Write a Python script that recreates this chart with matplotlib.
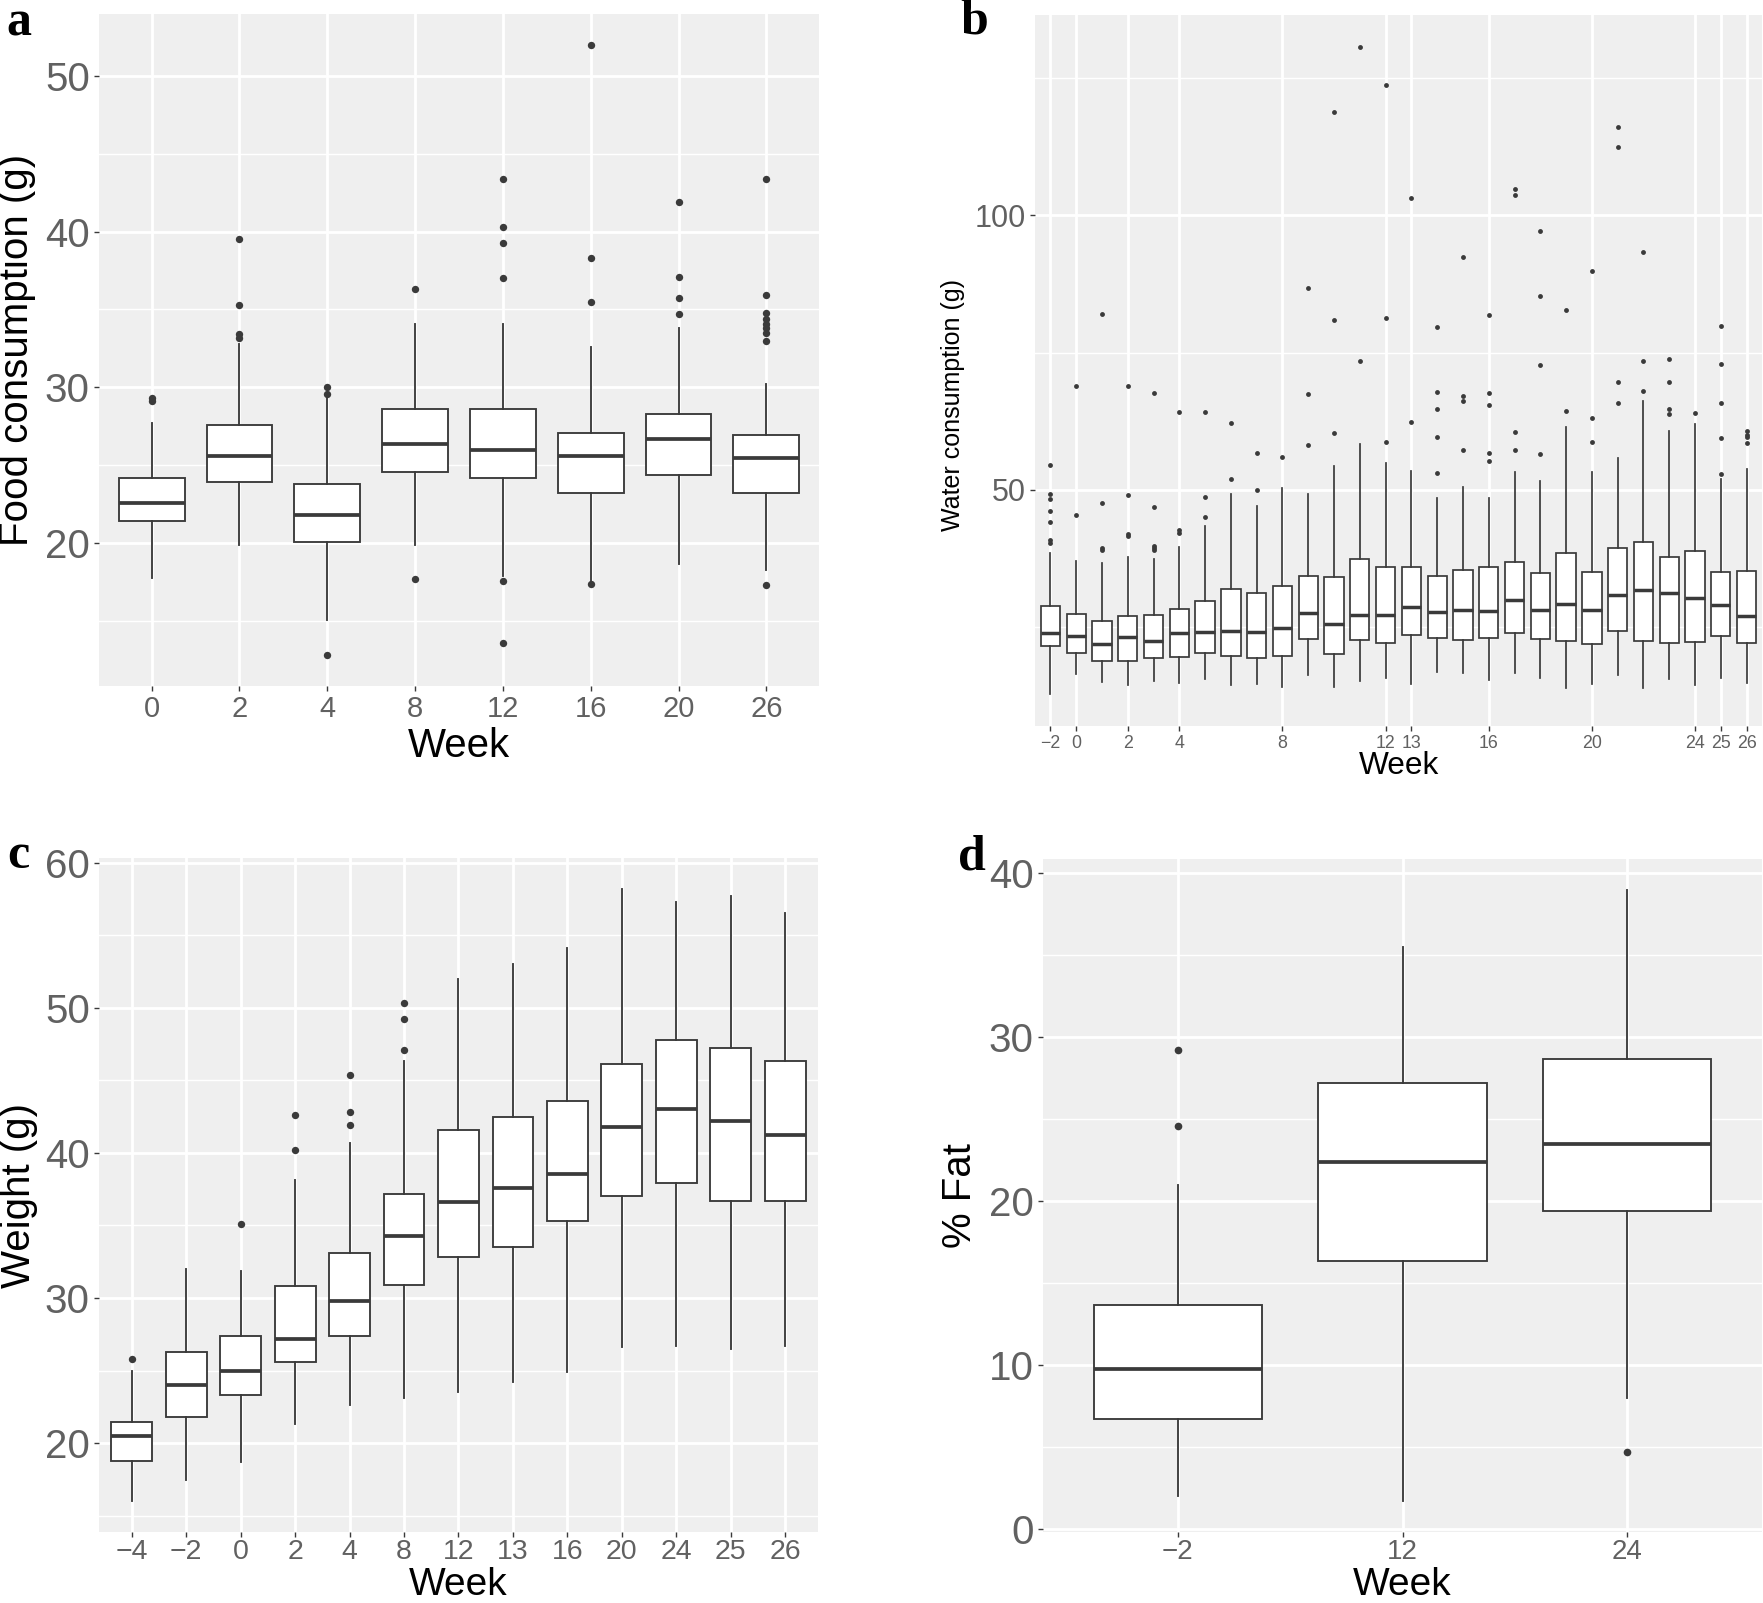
import matplotlib
matplotlib.use("Agg")
import matplotlib.pyplot as plt
from matplotlib.ticker import FixedLocator

plt.rcParams['font.family'] = ['Liberation Sans', 'DejaVu Sans']

W, H = 1763, 1603

# ---------------- a: food consumption ----------------
weeks_a = ['0', '2', '4', '8', '12', '16', '20', '26']
a_lo = [17.8, 19.9, 15.1, 19.9, 17.9, 17.6, 18.7, 18.3]
a_q1 = [21.4, 23.9, 20.1, 24.6, 24.2, 23.25, 24.4, 23.2]
a_med = [22.6, 25.6, 21.8, 26.4, 26.0, 25.6, 26.7, 25.5]
a_q3 = [24.2, 27.6, 23.8, 28.6, 28.6, 27.1, 28.3, 26.95]
a_hi = [27.7, 32.8, 29.3, 34.1, 34.1, 32.6, 33.8, 30.2]
a_out = [[29.3, 29.1],
         [39.5, 35.3, 33.4, 33.2],
         [30.0, 29.6, 12.8],
         [36.3, 17.7],
         [43.4, 40.3, 39.25, 37.0, 17.6, 13.6],
         [52.0, 38.3, 35.5, 17.4],
         [41.9, 37.1, 35.75, 34.7],
         [43.4, 35.9, 34.75, 34.4, 34.1, 33.8, 33.5, 33.0, 17.3]]

# ---------------- b: water consumption ----------------
weeks_b = ['-2', '0', '1', '2', '3', '4', '5', '6', '7', '8', '9', '10', '11', '12',
           '13', '14', '15', '16', '17', '18', '19', '20', '21', '22', '23', '24', '25', '26']
b_labelled = ['-2', '0', '2', '4', '8', '12', '13', '16', '20', '24', '25', '26']
b_lo = [12.9, 16.5, 15.0, 14.4, 15.15, 14.8, 15.6, 14.5, 14.7, 14.05, 16.2, 14.05, 15.27, 15.75,
        14.7, 16.8, 16.7, 15.45, 16.7, 15.75, 14.0, 14.7, 16.2, 14.0, 15.6, 14.4, 15.8, 14.85]
b_q1 = [21.5, 20.3, 18.8, 18.8, 19.4, 19.6, 20.3, 19.7, 19.3, 19.8, 22.8, 20.05, 22.6, 22.2,
        23.5, 23.1, 22.7, 23.1, 24.0, 22.8, 22.4, 22.0, 24.3, 22.5, 22.05, 22.3, 23.35, 22.1]
b_med = [23.9, 23.45, 21.9, 23.3, 22.5, 23.9, 24.1, 24.3, 24.2, 24.8, 27.6, 25.5, 27.15, 27.15,
         28.6, 27.7, 28.1, 27.9, 29.9, 28.2, 29.3, 28.2, 30.85, 31.75, 31.2, 30.3, 29.05, 27.1]
b_q3 = [28.9, 27.4, 26.2, 27.0, 27.2, 28.4, 29.7, 32.0, 31.2, 32.5, 34.4, 34.2, 37.45, 35.9,
        35.9, 34.4, 35.5, 36.05, 36.8, 34.8, 38.6, 35.0, 39.5, 40.5, 37.8, 38.85, 35.0, 35.2]
b_hi = [38.6, 37.1, 36.7, 37.7, 37.4, 39.6, 43.5, 49.2, 47.1, 50.3, 49.2, 54.4, 58.4, 54.85,
        53.4, 48.5, 50.5, 48.5, 53.3, 51.6, 61.5, 53.3, 55.9, 66.2, 60.8, 62.05, 51.9, 53.75]
b_out = [[54.5, 49.3, 48.4, 46.1, 44.2, 40.9, 40.4],
         [69.0, 45.5],
         [82.0, 47.7, 39.4, 39.1],
         [69.0, 49.15, 41.9, 41.6],
         [67.6, 46.8, 39.8, 39.4, 39.0],
         [64.2, 42.7, 42.2],
         [64.2, 48.7, 45.0],
         [62.1, 51.9],
         [56.7, 50.0],
         [56.05],
         [86.7, 67.4, 58.2],
         [118.8, 81.0, 60.3],
         [130.6, 73.4],
         [123.8, 81.3, 58.7],
         [103.2, 62.4],
         [79.6, 67.9, 64.8, 59.7, 53.0],
         [92.5, 67.15, 66.2, 57.3],
         [81.8, 67.6, 65.4, 56.7, 55.3],
         [104.8, 103.8, 60.5, 57.3],
         [97.1, 85.4, 72.7, 56.5],
         [82.85, 64.4],
         [89.9, 63.1, 58.7],
         [116.1, 112.5, 69.7, 65.9],
         [93.3, 73.4, 68.1],
         [73.8, 69.6, 64.8, 63.75],
         [64.1],
         [79.9, 73.0, 65.9, 59.5, 52.85],
         [60.7, 60.0, 59.6, 58.5]]

# ---------------- c: weight ----------------
weeks_c = ['-4', '-2', '0', '2', '4', '8', '12', '13', '16', '20', '24', '25', '26']
c_lo = [16.0, 17.5, 18.7, 21.3, 22.65, 23.1, 23.5, 24.2, 24.9, 26.6, 26.7, 26.5, 26.7]
c_q1 = [18.8, 21.8, 23.3, 25.6, 27.4, 30.9, 32.8, 33.5, 35.3, 37.0, 37.9, 36.7, 36.7]
c_med = [20.5, 24.0, 25.0, 27.2, 29.8, 34.3, 36.65, 37.6, 38.55, 41.75, 43.0, 42.2, 41.2]
c_q3 = [21.5, 26.3, 27.4, 30.8, 33.1, 37.2, 41.6, 42.5, 43.6, 46.1, 47.8, 47.2, 46.3]
c_hi = [25.0, 32.0, 31.9, 38.1, 40.7, 46.3, 52.0, 53.0, 54.1, 58.2, 57.3, 57.7, 56.5]
c_out = [[25.8], [], [35.1], [42.6, 40.2], [45.35, 42.8, 41.9], [50.35, 49.2, 47.1],
         [], [], [], [], [], [], []]

# ---------------- d: % fat ----------------
weeks_d = ['-2', '12', '24']
d_lo = [2.0, 1.7, 8.0]
d_q1 = [6.75, 16.35, 19.4]
d_med = [9.8, 22.4, 23.5]
d_q3 = [13.65, 27.2, 28.7]
d_hi = [21.0, 35.5, 39.0]
d_out = [[29.2, 24.6], [], [4.7]]

BG = '#EFEFEF'
INK = '#3A3A3A'
TICK = '#616161'


def rect(l, t, r, b):
    return [l / W, 1 - b / H, (r - l) / W, (b - t) / H]


def nice(lab):
    return lab.replace('-', '\u2212')


def panel(ax, labels, lo, q1, med, q3, hi, out, lw, ms):
    stats = []
    for i in range(len(labels)):
        stats.append(dict(label=labels[i], whislo=lo[i], q1=q1[i], med=med[i],
                          q3=q3[i], whishi=hi[i], fliers=out[i]))
    ax.bxp(stats, positions=range(len(labels)), widths=0.75, patch_artist=True,
           showcaps=False, manage_ticks=False,
           boxprops=dict(facecolor='white', edgecolor=INK, linewidth=lw),
           medianprops=dict(color=INK, linewidth=lw * 2),
           whiskerprops=dict(color=INK, linewidth=lw),
           flierprops=dict(marker='o', markerfacecolor=INK, markeredgecolor='none',
                           markersize=ms))
    ax.set_facecolor(BG)
    ax.set_axisbelow(True)
    for s in ax.spines.values():
        s.set_visible(False)
    ax.set_xlim(-0.6, len(labels) - 1 + 0.6)
    ax.grid(which='major', color='white', linewidth=2.0)
    ax.grid(which='minor', axis='y', color='white', linewidth=1.0)
    ax.tick_params(which='major', length=3.6, width=1.0, color=INK, labelcolor=TICK, pad=3)
    ax.tick_params(which='minor', length=0)


fig = plt.figure(figsize=(W / 100, H / 100), dpi=100)

# a
ax = fig.add_axes(rect(99, 14, 819, 686))
panel(ax, weeks_a, a_lo, a_q1, a_med, a_q3, a_hi, a_out, 1.35, 5.3)
ax.set_ylim(10.84, 53.96)
ax.set_yticks([20, 30, 40, 50])
ax.yaxis.set_minor_locator(FixedLocator([15, 25, 35, 45]))
ax.set_xticks(range(len(weeks_a)))
ax.set_xticklabels([nice(w) for w in weeks_a])
ax.tick_params(axis='y', labelsize=29)
ax.tick_params(axis='x', labelsize=21)
ax.set_ylabel('Food consumption (g)', fontsize=29, va='center')
ax.yaxis.set_label_coords((17 - 99) / 720, 0.5)
ax.set_xlabel('Week', fontsize=29, va='center')
ax.xaxis.set_label_coords(0.5, -(746 - 686) / 672)

# b
ax = fig.add_axes(rect(1035, 15, 1762, 726))
panel(ax, weeks_b, b_lo, b_q1, b_med, b_q3, b_hi, b_out, 1.25, 3.5)
ax.set_ylim(7.0, 136.5)
ax.set_yticks([50, 100])
ax.yaxis.set_minor_locator(FixedLocator([25, 75, 125]))
ax.set_xticks([weeks_b.index(w) for w in b_labelled])
ax.set_xticklabels([nice(w) for w in b_labelled])
ax.tick_params(axis='y', labelsize=22)
ax.tick_params(axis='x', labelsize=12.8)
ax.set_ylabel('Water consumption (g)', fontsize=18, va='center')
ax.yaxis.set_label_coords((953 - 1035) / 727, 1 - (405 - 15) / 711)
ax.set_xlabel('Week', fontsize=22.8, va='center')
ax.xaxis.set_label_coords(0.5, -(766 - 726) / 711)

# c
ax = fig.add_axes(rect(99, 858, 818, 1532))
panel(ax, weeks_c, c_lo, c_q1, c_med, c_q3, c_hi, c_out, 1.35, 5.3)
ax.set_ylim(13.89, 60.31)
ax.set_yticks([20, 30, 40, 50, 60])
ax.yaxis.set_minor_locator(FixedLocator([15, 25, 35, 45, 55]))
ax.set_xticks(range(len(weeks_c)))
ax.set_xticklabels([nice(w) for w in weeks_c])
ax.tick_params(axis='y', labelsize=29)
ax.tick_params(axis='x', labelsize=20.5, pad=1.5)
ax.set_ylabel('Weight (g)', fontsize=29, va='center')
ax.yaxis.set_label_coords((19 - 99) / 719, 0.5)
ax.set_xlabel('Week', fontsize=28, va='center')
ax.xaxis.set_label_coords(0.5, -(1584.6 - 1532) / 674)

# d
ax = fig.add_axes(rect(1043, 859, 1762, 1532))
panel(ax, weeks_d, d_lo, d_q1, d_med, d_q3, d_hi, d_out, 1.35, 5.5)
ax.set_ylim(-0.165, 40.865)
ax.set_yticks([0, 10, 20, 30, 40])
ax.yaxis.set_minor_locator(FixedLocator([5, 15, 25, 35]))
ax.set_xticks(range(len(weeks_d)))
ax.set_xticklabels([nice(w) for w in weeks_d])
ax.tick_params(axis='y', labelsize=29)
ax.tick_params(axis='x', labelsize=20, pad=1.5)
ax.set_ylabel('% Fat', fontsize=29, va='center')
ax.yaxis.set_label_coords((960 - 1043) / 719, 0.5)
ax.set_xlabel('Week', fontsize=28, va='center')
ax.xaxis.set_label_coords(0.5, -(1584.6 - 1532) / 673)

# panel letters
for letter, x, y in [('a', 6, 35), ('b', 960, 33), ('c', 7, 868), ('d', 958, 870)]:
    fig.text(x / W, 1 - y / H, letter, fontsize=36, fontweight='bold',
             family='Liberation Serif', ha='left', va='baseline')

fig.savefig('out.png', dpi=100)
